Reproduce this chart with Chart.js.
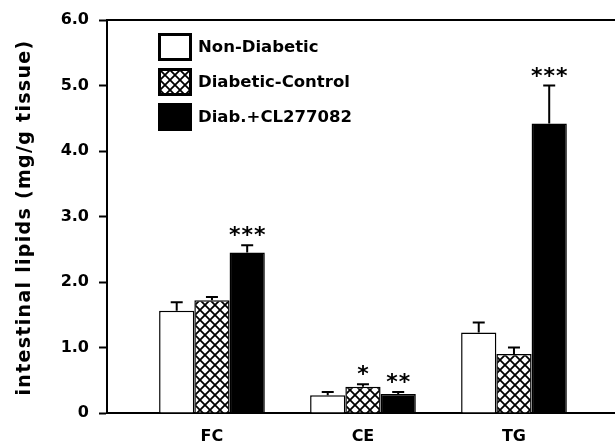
<!DOCTYPE html>
<html>
<head>
<meta charset="utf-8">
<script src="https://cdn.jsdelivr.net/npm/chart.js@4"></script>
<style>
  body { margin: 0; background: #fff; }
</style>
</head>
<body>
<canvas id="lipids" width="615" height="447"></canvas>
<script>
// intestinal lipids, mean and +SEM (mg/g tissue)
const categories = ['FC', 'CE', 'TG'];
const seriesNames = ['Non-Diabetic', 'Diabetic-Control', 'Diab.+CL277082'];
const nonDiabetic = [1.56, 0.27, 1.23];
const nonDiabeticErr = [0.13, 0.05, 0.15];
const diabControl = [1.72, 0.40, 0.90];
const diabControlErr = [0.05, 0.04, 0.10];
const diabCL = [2.45, 0.29, 4.42];
const diabCLErr = [0.11, 0.03, 0.58];
const nonDiabeticStars = ['', '', ''];
const diabControlStars = ['', '*', ''];
const diabCLStars = ['***', '**', '***'];
const yTicks = [0, 1, 2, 3, 4, 5, 6];
const yTickLabels = ['0', '1.0', '2.0', '3.0', '4.0', '5.0', '6.0'];
const yTitle = 'intestinal lipids (mg/g tissue)';

var ctx = document.getElementById('lipids').getContext('2d');

function crossHatch() {
  var c = document.createElement('canvas');
  c.width = 10; c.height = 10;
  var g = c.getContext('2d');
  g.fillStyle = '#fff';
  g.fillRect(0, 0, 10, 10);
  g.strokeStyle = '#000';
  g.lineWidth = 1.8;
  g.beginPath();
  g.moveTo(-1, -1); g.lineTo(11, 11);
  g.moveTo(11, -1); g.lineTo(-1, 11);
  g.stroke();
  return ctx.createPattern(c, 'repeat');
}
var hatch = crossHatch();

function pts(arr) {
  return arr.map(function (v, i) { return { x: i, y: v }; });
}

const extras = {
  id: 'extras',
  afterDatasetsDraw: function (chart) {
    var c = chart.ctx, y = chart.scales.y;
    chart.data.datasets.forEach(function (ds, di) {
      var meta = chart.getDatasetMeta(di);
      meta.data.forEach(function (bar, i) {
        var top = y.getPixelForValue(ds.data[i].y + ds.err[i]);
        c.save();
        c.strokeStyle = '#000';
        c.lineWidth = 2;
        c.beginPath();
        c.moveTo(bar.x, bar.y);
        c.lineTo(bar.x, top);
        c.moveTo(bar.x - 6, top);
        c.lineTo(bar.x + 6, top);
        c.stroke();
        if (ds.stars[i]) {
          c.fillStyle = '#000';
          c.font = 'bold 22px "DejaVu Sans"';
          c.letterSpacing = '1px';
          c.textAlign = 'center';
          c.textBaseline = 'alphabetic';
          c.fillText(ds.stars[i], bar.x + 0.5, top - 3);
        }
        c.restore();
      });
    });
  },
  afterDraw: function (chart) {
    var c = chart.ctx, a = chart.chartArea;
    c.save();
    // frame line along the top
    c.strokeStyle = '#000';
    c.lineWidth = 2;
    c.beginPath();
    c.moveTo(a.left, a.top);
    c.lineTo(a.right, a.top);
    c.stroke();
    // y title
    c.fillStyle = '#000';
    c.font = 'bold 19px "DejaVu Sans"';
    c.letterSpacing = '1.3px';
    c.textAlign = 'center';
    c.textBaseline = 'middle';
    c.translate(25, (a.top + a.bottom) / 2 + 1);
    c.rotate(-Math.PI / 2);
    c.fillText(yTitle, 0, 0);
    c.restore();

    // legend
    c.save();
    var lx = a.left + 51, ly = a.top + 13;
    chart.data.datasets.forEach(function (ds, i) {
      var by = ly + i * 35;
      c.fillStyle = ds.backgroundColor;
      c.fillRect(lx, by, 34, 28);
      c.strokeStyle = '#000';
      c.lineWidth = 3;
      c.strokeRect(lx + 1.5, by + 1.5, 31, 25);
      c.fillStyle = '#000';
      c.font = 'bold 16.5px "DejaVu Sans"';
      c.letterSpacing = '0px';
      c.textAlign = 'left';
      c.textBaseline = 'middle';
      c.fillText(ds.label, lx + 40, by + 15);
    });
    c.restore();
  }
};

var myChart = new Chart(ctx, {
  type: 'bar',
  data: {
    datasets: [{
      label: seriesNames[0],
      data: pts(nonDiabetic),
      err: nonDiabeticErr,
      stars: nonDiabeticStars,
      backgroundColor: '#fff'
    }, {
      label: seriesNames[1],
      data: pts(diabControl),
      err: diabControlErr,
      stars: diabControlStars,
      backgroundColor: hatch
    }, {
      label: seriesNames[2],
      data: pts(diabCL),
      err: diabCLErr,
      stars: diabCLStars,
      backgroundColor: '#000'
    }]
  },
  options: {
    responsive: false,
    animation: false,
    layout: { padding: { top: 20, left: 0, right: 0, bottom: 0 } },
    datasets: {
      bar: {
        borderColor: '#000',
        borderWidth: 1.5,
        categoryPercentage: 0.7,
        barPercentage: 1.0
      }
    },
    plugins: {
      legend: { display: false },
      tooltip: { enabled: false }
    },
    scales: {
      x: {
        type: 'linear',
        offset: false,
        min: -0.695,
        max: 2.669,
        afterFit: function (s) { s.height = 34; },
        grid: { display: false, drawTicks: false, offset: false },
        border: { display: true, color: '#000', width: 2 },
        ticks: {
          stepSize: 1,
          includeBounds: false,
          autoSkip: false,
          maxRotation: 0,
          padding: 14,
          color: '#000',
          font: { family: 'DejaVu Sans', size: 16, weight: 'bold' },
          callback: function (v) { return categories[v] || ''; }
        }
      },
      y: {
        min: 0,
        max: 6,
        afterFit: function (s) { s.width = 107; },
        afterBuildTicks: function (s) {
          s.ticks = yTicks.map(function (v) { return { value: v }; });
        },
        grid: {
          drawOnChartArea: false,
          drawTicks: true,
          tickLength: 8,
          tickWidth: 2,
          tickColor: '#000'
        },
        border: { display: true, color: '#000', width: 2 },
        ticks: {
          padding: 10,
          color: '#000',
          font: { family: 'DejaVu Sans', size: 16, weight: 'bold' },
          callback: function (v) { return yTickLabels[yTicks.indexOf(v)]; }
        }
      }
    }
  },
  plugins: [extras]
});
</script>
</body>
</html>
